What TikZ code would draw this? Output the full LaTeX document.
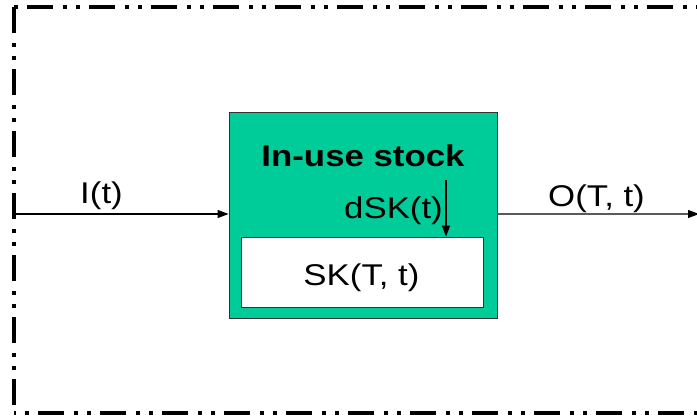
\documentclass[tikz,border=0pt]{standalone}
\usepackage{fontspec}
\usepackage{graphicx}
\setmainfont{Liberation Sans}
\usetikzlibrary{arrows.meta}
\definecolor{stockgreen}{RGB}{0,204,153}
\definecolor{outgray}{RGB}{90,90,90}
\tikzset{
  frameline/.style={line width=4pt, dash pattern=on 26pt off 10pt on 4pt off 9pt on 4pt off 9pt},
  flow/.style={line width=1.1pt, -{Triangle[length=11pt,width=8pt,color=black]}},
  lbl/.style={inner sep=0pt, anchor=base, font=\fontsize{30}{36}\selectfont},
  greenbox/.style={draw=black!80, line width=0.8pt, fill=stockgreen, minimum width=268pt, minimum height=206pt, inner sep=0pt},
  whitebox/.style={draw=black!80, line width=0.8pt, fill=white, minimum width=242pt, minimum height=70pt, inner sep=0pt}
}
\newcommand{\wide}[1]{\scalebox{1.16}[1]{#1}}
\begin{document}
\begin{tikzpicture}[x=1pt,y=-1pt]
\useasboundingbox (0,0) rectangle (697,418);
% frame
\draw[frameline, dash phase=49pt] (14,7) -- (720,7);
\draw[frameline, dash phase=0pt] (14,7) -- (14,413);
\draw[frameline, dash phase=38pt] (14,413) -- (720,413);
% boxes
\node[greenbox] (stock) at (363,215) {};
\node[whitebox] (sk) at (362,272) {};
\node[lbl, font=\fontsize{30}{36}\selectfont\bfseries] (title) at (363,166) {\wide{In-use stock}};
\node[lbl] (dsk) at (393.5,218) {\wide{dSK(t)}};
\node[lbl] (sktext) at (361.5,285) {\wide{SK(T, t)}};
\node[lbl] (ilbl) at (101.5,203) {\wide{I(t)}};
\node[lbl] (olbl) at (596.5,206) {\wide{O(T, t)}};
% connectors
\coordinate (lin) at (14,214);
\coordinate (rout) at (699,214);
\coordinate (dtop) at (446,180);
\draw[flow] (lin) -- (lin -| stock.west);
\draw[flow, draw=outgray] (stock.east |- rout) -- (rout);
\draw[flow] (dtop) -- (dtop |- sk.north);
\end{tikzpicture}
\end{document}
